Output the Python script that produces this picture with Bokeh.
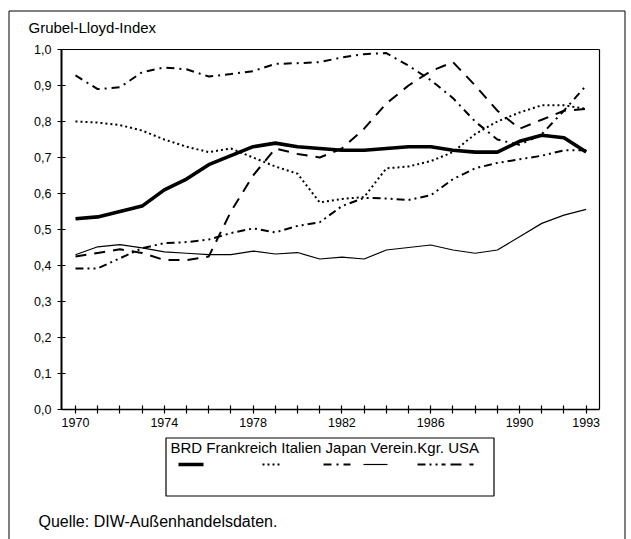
from bokeh.plotting import figure
from bokeh.models import (FixedTicker, CustomJSTickFormatter, Range1d, LinearAxis)
from bokeh.core.properties import value
from bokeh.embed import file_html
from bokeh.resources import INLINE

# ---------------- data ----------------
years = list(range(1970, 1994))
brd = [0.53, 0.535, 0.55, 0.565, 0.61, 0.64, 0.68, 0.705, 0.73, 0.74, 0.73, 0.725,
       0.72, 0.72, 0.725, 0.73, 0.73, 0.72, 0.715, 0.715, 0.745, 0.762, 0.755, 0.715]
frankreich = [0.80, 0.797, 0.79, 0.775, 0.75, 0.73, 0.715, 0.725, 0.70, 0.675, 0.655, 0.575,
              0.585, 0.59, 0.67, 0.675, 0.69, 0.715, 0.765, 0.80, 0.825, 0.845, 0.845, 0.835]
italien = [0.928, 0.89, 0.895, 0.937, 0.95, 0.945, 0.925, 0.932, 0.94, 0.96, 0.962, 0.965,
           0.978, 0.987, 0.99, 0.955, 0.915, 0.865, 0.80, 0.75, 0.735, 0.765, 0.83, 0.90]
japan = [0.43, 0.452, 0.458, 0.449, 0.438, 0.434, 0.43, 0.43, 0.44, 0.432, 0.436, 0.418,
         0.423, 0.418, 0.443, 0.45, 0.457, 0.443, 0.434, 0.443, 0.48, 0.517, 0.54, 0.556]
verein_kgr = [0.392, 0.392, 0.42, 0.448, 0.462, 0.465, 0.472, 0.49, 0.503, 0.492, 0.51, 0.52,
              0.565, 0.588, 0.586, 0.582, 0.595, 0.64, 0.67, 0.685, 0.695, 0.705, 0.72, 0.72]
usa = [0.425, 0.435, 0.445, 0.435, 0.415, 0.415, 0.425, 0.55, 0.65, 0.725, 0.71, 0.70,
       0.725, 0.78, 0.85, 0.90, 0.94, 0.965, 0.90, 0.83, 0.78, 0.805, 0.83, 0.835]

series_names = ["BRD", "Frankreich", "Italien", "Japan", "Verein.Kgr.", "USA"]
x_label_years = [1970, 1974, 1978, 1982, 1986, 1990, 1993]
y_ticks = [0.0, 0.1, 0.2, 0.3, 0.4, 0.5, 0.6, 0.7, 0.8, 0.9, 1.0]
title_text = "Grubel-Lloyd-Index"
source_text = "Quelle: DIW-Außenhandelsdaten."

FONT = "Liberation Sans"

# ---------------- geometry ----------------
W, H = 631, 539
FL, FR, FT, FB = 61, 599, 49, 409          # chart box in page pixels
X0, X1 = 1969.37, 1993.6                   # chart box in data units (x)
Y0, Y1 = 0.0, 1.0                          # chart box in data units (y)
SX = (FR - FL) / (X1 - X0)
SY = (FB - FT) / (Y1 - Y0)

def X(px):
    return X0 + (px - FL) / SX

def Y(py):
    return Y0 + (FB - py) / SY

p = figure(width=W, height=H, output_backend="svg", toolbar_location=None,
           x_range=Range1d(X(0), X(W)), y_range=Range1d(Y(H), Y(0)),
           min_border=0, min_border_left=0, min_border_right=0,
           min_border_top=0, min_border_bottom=0)
p.xgrid.visible = False
p.ygrid.visible = False
p.outline_line_color = None
p.background_fill_color = "white"
p.border_fill_color = "white"

# main axes drawn at the chart box edges
xa, ya = p.xaxis[0], p.yaxis[0]
xa.fixed_location = Y0
xa.bounds = (X0, X1)
xa.ticker = FixedTicker(ticks=years)
xa.formatter = CustomJSTickFormatter(args=dict(show=x_label_years),
                                     code="return show.includes(tick) ? String(tick) : '';")
ya.fixed_location = X0
ya.bounds = (Y0, Y1)
ya.ticker = FixedTicker(ticks=y_ticks)
ya.formatter = CustomJSTickFormatter(code="return tick.toFixed(1).replace('.', ',');")
for ax in (xa, ya):
    ax.major_tick_in = 4
    ax.major_tick_out = 4
    ax.minor_tick_in = 0
    ax.minor_tick_out = 0
    ax.axis_line_color = "black"
    ax.major_tick_line_color = "black"
    ax.major_tick_line_width = 1.2
    ax.major_label_text_font = FONT
    ax.major_label_text_font_size = "12.5px"
    ax.major_label_text_color = "black"
xa.axis_line_width = 1.5
ya.axis_line_width = 2
xa.major_label_standoff = 4
ya.major_label_standoff = 6

# top and right edges of the chart box
top_ax = LinearAxis(fixed_location=Y1, bounds=(X0, X1), ticker=FixedTicker(ticks=[]),
                    axis_line_color="black", axis_line_width=1.2,
                    major_tick_line_color=None, minor_tick_line_color=None)
right_ax = LinearAxis(fixed_location=X1, bounds=(Y0, Y1), ticker=FixedTicker(ticks=[]),
                      axis_line_color="black", axis_line_width=1.2,
                      major_tick_line_color=None, minor_tick_line_color=None)
p.add_layout(top_ax, "above")
p.add_layout(right_ax, "right")

# ---------------- series ----------------
styles = [
    dict(line_width=3.6, line_dash="solid"),
    dict(line_width=2.0, line_dash="2 3"),
    dict(line_width=2.0, line_dash="8 5 2 5"),
    dict(line_width=1.2, line_dash="solid"),
    dict(line_width=2.0, line_dash="8 4 2 4 2 4"),
    dict(line_width=2.0, line_dash="11 8"),
]
all_series = [brd, frankreich, italien, japan, verein_kgr, usa]
for vals, st in zip(all_series, styles):
    p.line(years, vals, line_color="black", **st)

# ---------------- decorations ----------------
# outer border (open at the bottom)
p.line([X(8.5), X(8.5), X(624.5), X(624.5)], [Y(560), Y(10.5), Y(10.5), Y(560)],
       line_color="black", line_width=1)
# title
p.text(x=[X(28)], y=[Y(27)], text=[title_text], text_font=value(FONT),
       text_font_size="15px", text_baseline="middle", text_align="left", text_color="black")
# legend box
p.quad(left=[X(165.5)], right=[X(493.5)], top=[Y(437.5)], bottom=[Y(495.5)],
       fill_alpha=0, line_color="black", line_width=1.2)
p.text(x=[X(170)], y=[Y(447)], text=[" ".join(series_names)], text_font=value(FONT),
       text_font_size="15px", text_baseline="middle", text_align="left", text_color="black")
sample_px = [(178, 203), (262, 282), (323, 350), (363, 387), (417, 445), (450, 473)]
for (a, b), st in zip(sample_px, styles):
    p.line([X(a), X(b)], [Y(464), Y(464)], line_color="black", **st)
# source
p.text(x=[X(38)], y=[Y(521)], text=[source_text], text_font=value(FONT),
       text_font_size="16px", text_baseline="middle", text_align="left", text_color="black")

open("out.html", "w").write(file_html(p, INLINE))
